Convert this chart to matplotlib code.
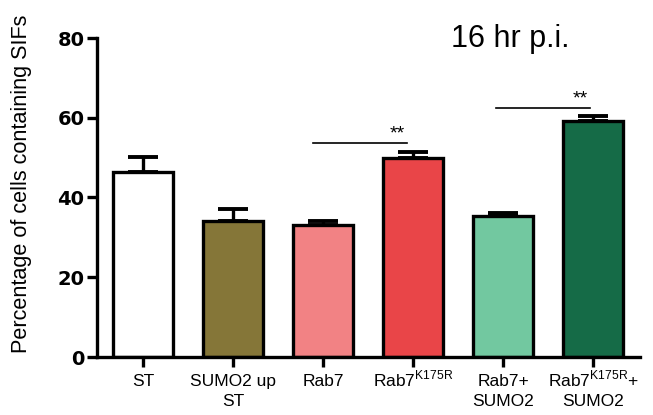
import matplotlib
matplotlib.use("Agg")
import matplotlib.pyplot as plt
import matplotlib.transforms as mtransforms

plt.rcParams["font.family"] = ["Liberation Sans", "DejaVu Sans"]

# data
kelompok = ["ST", "SUMO2 up\nST", "Rab7", "Rab7$^{\\mathregular{K175R}}$",
            "Rab7+\nSUMO2", "Rab7$^{\\mathregular{K175R}}$+\nSUMO2"]
nilai = [46.5, 34.0, 33.1, 49.8, 35.3, 59.3]
galat = [3.6, 3.2, 1.0, 1.6, 0.8, 1.1]
warna = ["#ffffff", "#857638", "#f28284", "#e94548", "#72c8a0", "#156b47"]
signif = [(1.89, 2.93, 53.6), (3.92, 4.96, 62.4)]

W, H = 653, 415
fig = plt.figure(figsize=(W/100, H/100), dpi=100)
ax = fig.add_axes([97/W, 58/H, 543/W, 319/H])

x = range(len(nilai))
ax.bar(x, nilai, width=0.66, color=warna, edgecolor="black", linewidth=2.4, zorder=2)
ax.errorbar(x, nilai, yerr=[[0]*len(galat), galat], fmt="none", ecolor="black",
            elinewidth=2.4, capsize=11, capthick=2.8, zorder=3)

for x0, x1, y in signif:
    ax.plot([x0, x1], [y, y], color="black", lw=1.2)
    ax.text(x1 - 0.1, y + 0.2, "**", ha="center", va="bottom", fontsize=14)

ax.set_xlim(-0.51, 5.52)
ax.set_ylim(0, 80)
ax.set_yticks([0, 20, 40, 60, 80])
ax.set_xticks(list(x))
ax.set_xticklabels([""] * len(kelompok))
for lab in ax.get_yticklabels():
    lab.set_fontweight("bold")
    lab.set_fontsize(14)
    lab.set_family("DejaVu Sans")
ax.tick_params(axis="y", width=2.4, length=7, pad=2)
ax.tick_params(axis="x", width=2.4, length=7, pad=4)
for s in ["top", "right"]:
    ax.spines[s].set_visible(False)
for s in ["left", "bottom"]:
    ax.spines[s].set_linewidth(2.4)

# tick labels, drawn line by line so superscripts keep the baseline
trans = mtransforms.blended_transform_factory(ax.transData, fig.transFigure)
for i, nama in enumerate(kelompok):
    for j, baris in enumerate(nama.split("\n")):
        ax.text(i, 1 - (386 + 20 * j) / H, baris, transform=trans, ha="center",
                va="baseline", fontsize=12.5)

fig.text(22/W, 1 - 184/H, "Percentage of cells containing SIFs", rotation=90,
         ha="center", va="center", fontsize=15.6)

fig.text(510/W, 1 - 47/H, "16 hr p.i.", ha="center", va="baseline", fontsize=22)

fig.savefig("out.png", dpi=100)
